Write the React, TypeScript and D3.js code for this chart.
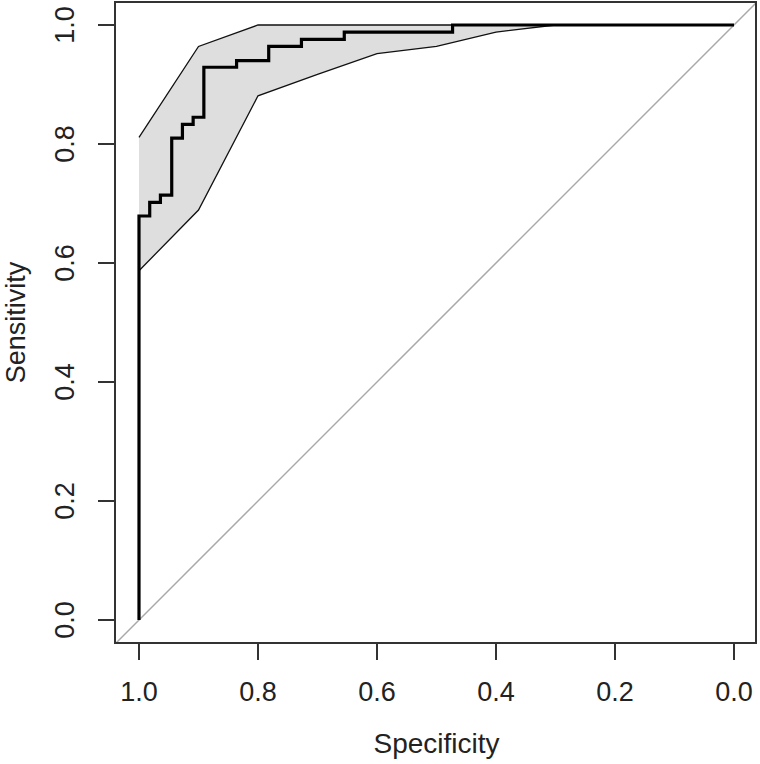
import React, { useEffect, useRef } from "react";
import * as d3 from "d3";

// ROC curve corners (specificity, sensitivity)
const rocSpecificity = [
  1.0, 1.0, 0.982, 0.982, 0.964, 0.964, 0.945, 0.945, 0.927, 0.927, 0.909, 0.909,
  0.891, 0.891, 0.836, 0.836, 0.782, 0.782, 0.727, 0.727, 0.655, 0.655, 0.473, 0.473, 0.0,
];
const rocSensitivity = [
  0.0, 0.679, 0.679, 0.702, 0.702, 0.714, 0.714, 0.81, 0.81, 0.833, 0.833, 0.845,
  0.845, 0.929, 0.929, 0.94, 0.94, 0.964, 0.964, 0.976, 0.976, 0.988, 0.988, 1.0, 1.0,
];

// confidence band of sensitivity at fixed specificities
const ciSpecificity = [1.0, 0.9, 0.8, 0.7, 0.6, 0.5, 0.4, 0.3, 0.2, 0.1, 0.0];
const ciLower = [0.587, 0.689, 0.881, 0.917, 0.952, 0.964, 0.988, 1.0, 1.0, 1.0, 1.0];
const ciUpper = [0.811, 0.964, 1.0, 1.0, 1.0, 1.0, 1.0, 1.0, 1.0, 1.0, 1.0];

const xTicks = [1.0, 0.8, 0.6, 0.4, 0.2, 0.0];
const yTicks = [0.0, 0.2, 0.4, 0.6, 0.8, 1.0];

const App = () => {
  const ref = useRef<SVGSVGElement | null>(null);

  useEffect(() => {
    const width = 760;
    const height = 764;
    const box = { left: 115, right: 756, top: 2, bottom: 643 };
    const font = "'Liberation Sans', Arial, sans-serif";

    const svg = d3.select(ref.current);
    svg.selectAll("*").remove();
    svg.attr("width", width).attr("height", height);

    const x = d3.scaleLinear().domain([1, 0]).range([139, 734]);
    const y = d3.scaleLinear().domain([0, 1]).range([620, 25]);

    svg
      .append("defs")
      .append("clipPath")
      .attr("id", "plotclip")
      .append("rect")
      .attr("x", box.left)
      .attr("y", box.top)
      .attr("width", box.right - box.left)
      .attr("height", box.bottom - box.top);

    const plot = svg.append("g").attr("clip-path", "url(#plotclip)");

    // diagonal
    plot
      .append("line")
      .attr("x1", x(1.1))
      .attr("y1", y(-0.1))
      .attr("x2", x(-0.1))
      .attr("y2", y(1.1))
      .attr("stroke", "#a9a9a9")
      .attr("stroke-width", 1.5);

    // ci band
    const band = d3
      .area<number>()
      .x((d, i) => x(ciSpecificity[i]))
      .y0((d, i) => y(ciLower[i]))
      .y1((d, i) => y(ciUpper[i]));
    plot
      .append("path")
      .attr("d", band(ciSpecificity))
      .attr("fill", "#dedede")
      .attr("stroke", "none");
    const edge = d3
      .line<number>()
      .x((d, i) => x(ciSpecificity[i]))
      .y((d) => y(d));
    [ciLower, ciUpper].forEach((arr) => {
      plot
        .append("path")
        .attr("d", edge(arr))
        .attr("fill", "none")
        .attr("stroke", "#111")
        .attr("stroke-width", 1.3);
    });

    // roc curve
    const roc = d3
      .line<number>()
      .x((d, i) => x(rocSpecificity[i]))
      .y((d) => y(d));
    plot
      .append("path")
      .attr("d", roc(rocSensitivity))
      .attr("fill", "none")
      .attr("stroke", "#000")
      .attr("stroke-width", 3.2);

    // box
    svg
      .append("rect")
      .attr("x", box.left)
      .attr("y", box.top)
      .attr("width", box.right - box.left)
      .attr("height", box.bottom - box.top)
      .attr("fill", "none")
      .attr("stroke", "#333")
      .attr("stroke-width", 2);

    // x axis
    const xa = svg.append("g");
    xTicks.forEach((t) => {
      xa.append("line")
        .attr("x1", x(t))
        .attr("x2", x(t))
        .attr("y1", box.bottom)
        .attr("y2", box.bottom + 17)
        .attr("stroke", "#333")
        .attr("stroke-width", 2);
      xa.append("text")
        .attr("x", x(t))
        .attr("y", 701)
        .attr("text-anchor", "middle")
        .attr("font-family", font)
        .attr("font-size", 27)
        .attr("fill", "#222")
        .text(t.toFixed(1));
    });

    // y axis
    const ya = svg.append("g");
    yTicks.forEach((t) => {
      ya.append("line")
        .attr("x1", box.left - 17)
        .attr("x2", box.left)
        .attr("y1", y(t))
        .attr("y2", y(t))
        .attr("stroke", "#333")
        .attr("stroke-width", 2);
      ya.append("text")
        .attr("transform", `translate(74, ${y(t)}) rotate(-90)`)
        .attr("text-anchor", "middle")
        .attr("font-family", font)
        .attr("font-size", 27)
        .attr("fill", "#222")
        .text(t.toFixed(1));
    });

    svg
      .append("text")
      .attr("x", (x(1) + x(0)) / 2)
      .attr("y", 753)
      .attr("text-anchor", "middle")
      .attr("font-family", font)
      .attr("font-size", 28)
      .attr("fill", "#222")
      .text("Specificity");

    svg
      .append("text")
      .attr("transform", `translate(25, ${(y(0) + y(1)) / 2}) rotate(-90)`)
      .attr("text-anchor", "middle")
      .attr("font-family", font)
      .attr("font-size", 27)
      .attr("fill", "#222")
      .text("Sensitivity");
  }, []);

  return (
    <svg
      ref={ref}
      style={{ position: "absolute", left: 0, top: 0, display: "block", background: "#fff" }}
    />
  );
};

export default App;
